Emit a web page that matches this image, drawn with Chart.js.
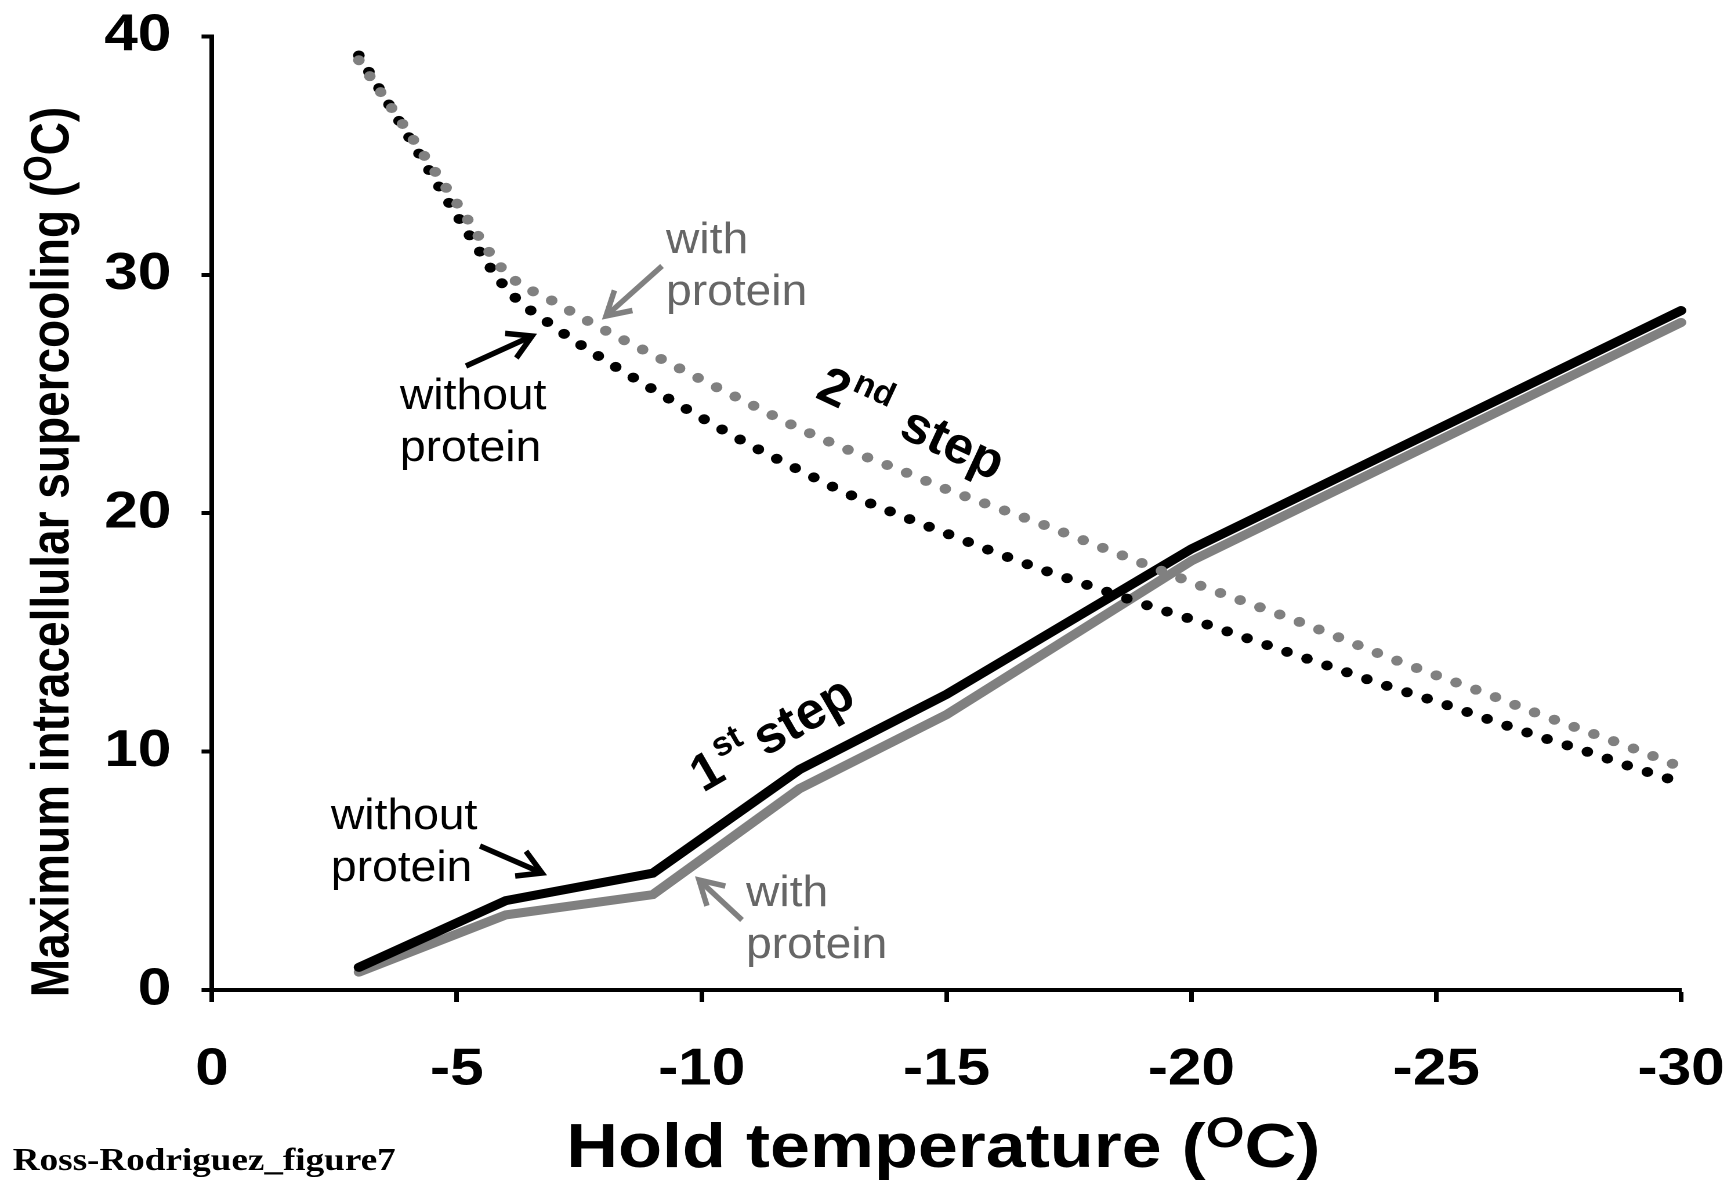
<!DOCTYPE html>
<html><head><meta charset="utf-8">
<script src="https://cdn.jsdelivr.net/npm/chart.js@4.4.1/dist/chart.umd.min.js"></script>
<style>html,body{margin:0;padding:0;background:#fff;overflow:hidden}canvas{display:block}</style>
</head><body>
<canvas id="c" width="1492" height="1184" style="width:1731px;height:1184px"></canvas>
<script>
// ---- data ----
const holdTemps1 = [-3, -6, -9, -12, -15, -20, -30];
const step1Without = [0.95, 3.75, 4.9, 9.25, 12.4, 18.5, 28.5];
const step1With = [0.75, 3.15, 4.0, 8.45, 11.55, 18.0, 28.0];
const holdTemps2 = [-3, -4, -5, -6, -7, -8, -9, -10, -11, -12, -13, -14, -15, -16, -17, -18, -19, -20, -21, -22, -23, -24, -25, -26, -27, -28, -29, -30];
const step2Without = [39.2, 35.85, 32.5, 29.45, 27.8, 26.45, 25.2, 24.0, 22.85, 21.8, 20.8, 19.95, 19.15, 18.35, 17.6, 16.9, 16.2, 15.55, 14.85, 14.15, 13.45, 12.75, 12.1, 11.4, 10.7, 10.05, 9.35, 8.7];
const step2With = [39.0, 36.0, 33.0, 30.1, 28.85, 27.7, 26.65, 25.6, 24.57, 23.55, 22.65, 21.85, 21.0, 20.25, 19.5, 18.7, 17.9, 17.1, 16.35, 15.6, 14.8, 13.97, 13.2, 12.45, 11.65, 10.9, 10.15, 9.35];
const xTickValues = [0, -5, -10, -15, -20, -25, -30];
const xTickLabels = ['0', '-5', '-10', '-15', '-20', '-25', '-30'];
const yTickValues = [0, 10, 20, 30, 40];
const yTickLabels = ['0', '10', '20', '30', '40'];

// ---- layout helpers ----
const S = 1731 / 1492;
const FONT = '"Liberation Sans", Arial, Helvetica, sans-serif';
const SERIF = '"Liberation Serif", "Times New Roman", serif';
Chart.defaults.font.family = FONT;

function pts(xs, ys) { return xs.map((x, i) => ({x: x, y: ys[i]})); }

function drawRich(ctx, parts, x, y, align, family) {
  family = family || FONT;
  let total = 0;
  const ws = parts.map(p => {
    ctx.font = (p.b ? 'bold ' : '') + p.s + 'px ' + family;
    const w = ctx.measureText(p.t).width; total += w; return w;
  });
  let cx = align === 'center' ? x - total / 2 : (align === 'right' ? x - total : x);
  ctx.textAlign = 'left';
  parts.forEach((p, i) => {
    ctx.font = (p.b ? 'bold ' : '') + p.s + 'px ' + family;
    ctx.fillText(p.t, cx, y + (p.dy || 0));
    cx += ws[i];
  });
}

function arrow(ctx, x1, y1, x2, y2, color) {
  const hl = 27, ha = Math.PI / 6;
  ctx.strokeStyle = color; ctx.lineWidth = 5.5; ctx.lineCap = 'butt'; ctx.lineJoin = 'miter';
  ctx.beginPath(); ctx.moveTo(x1, y1); ctx.lineTo(x2, y2); ctx.stroke();
  const a = Math.atan2(y1 - y2, x1 - x2);
  ctx.beginPath();
  ctx.moveTo(x2 + hl * Math.cos(a + ha), y2 + hl * Math.sin(a + ha));
  ctx.lineTo(x2, y2);
  ctx.lineTo(x2 + hl * Math.cos(a - ha), y2 + hl * Math.sin(a - ha));
  ctx.stroke();
}

function note(ctx, lines, x, y, color) {
  ctx.fillStyle = color;
  ctx.font = '44px ' + FONT;
  ctx.textAlign = 'left';
  lines.forEach((t, i) => {
    ctx.save(); ctx.translate(x, y + i * 52); ctx.scale(1.05, 1);
    ctx.fillText(t, 0, 0); ctx.restore();
  });
}

function stepLabel(ctx, x, y, ang, num, sup, stepX) {
  ctx.save(); ctx.translate(x, y); ctx.rotate(ang);
  ctx.fillStyle = '#000'; ctx.textAlign = 'left';
  ctx.font = 'bold 52px ' + FONT; ctx.fillText(num, 0, 0);
  const w = ctx.measureText(num).width;
  ctx.font = 'bold 34px ' + FONT; ctx.fillText(sup, w + 2, -22);
  ctx.font = 'bold 52px ' + FONT; ctx.fillText('step', stepX, 0);
  ctx.restore();
}

const annotPlugin = {
  id: 'annot',
  afterDraw(chart) {
    const ctx = chart.ctx;
    ctx.save();
    ctx.fillStyle = '#000';
    ctx.textBaseline = 'alphabetic';
    // x title
    drawRich(ctx, [
      {t: 'Hold temperature (', s: 62, b: true},
      {t: 'O', s: 43, b: true, dy: -20},
      {t: 'C)', s: 62, b: true}
    ], 813, 1167, 'center');
    // y title
    ctx.save(); ctx.translate(59, 552); ctx.rotate(-Math.PI / 2);
    drawRich(ctx, [
      {t: 'Maximum intracellular supercooling (', s: 46, b: true},
      {t: 'O', s: 34, b: true, dy: -15},
      {t: 'C)', s: 46, b: true}
    ], 0, 0, 'center');
    ctx.restore();
    // footer
    ctx.font = 'bold 32px ' + SERIF; ctx.textAlign = 'left';
    ctx.fillText('Ross-Rodriguez_figure7', 11, 1170);

    // annotations in true pixel space
    ctx.scale(1 / S, 1);
    note(ctx, ['with', 'protein'], 666, 253, '#666');
    note(ctx, ['without', 'protein'], 400, 409, '#000');
    note(ctx, ['without', 'protein'], 331, 829, '#000');
    note(ctx, ['with', 'protein'], 746, 906, '#666');
    arrow(ctx, 662, 266, 606, 316, '#808080');
    arrow(ctx, 466, 366, 532, 336, '#000');
    arrow(ctx, 480, 846, 542, 873, '#000');
    arrow(ctx, 742, 920, 699, 880, '#808080');
    stepLabel(ctx, 814, 397, 25 * Math.PI / 180, '2', 'nd', 92);
    stepLabel(ctx, 703, 793, -30 * Math.PI / 180, '1', 'st', 72);
    ctx.restore();
  }
};

const axisCommon = {
  grid: {drawOnChartArea: false, drawTicks: true, tickWidth: 4, tickColor: '#000', color: '#000'},
  border: {display: true, color: '#000', width: 4}
};

new Chart(document.getElementById('c'), {
  type: 'line',
  data: {
    datasets: [
      {label: '2nd step with protein', data: pts(holdTemps2, step2With), borderColor: '#808080', borderWidth: 10,
       borderDash: [0, 18.5], borderCapStyle: 'round', pointRadius: 0, cubicInterpolationMode: 'monotone', order: 0, clip: false},
      {label: '2nd step without protein', data: pts(holdTemps2, step2Without), borderColor: '#000', borderWidth: 10,
       borderDash: [0, 18.5], borderCapStyle: 'round', pointRadius: 0, cubicInterpolationMode: 'monotone', order: 1, clip: false},
      {label: '1st step without protein', data: pts(holdTemps1, step1Without), borderColor: '#000', borderWidth: 9,
       borderCapStyle: 'round', pointRadius: 0, tension: 0, order: 2, clip: false},
      {label: '1st step with protein', data: pts(holdTemps1, step1With), borderColor: '#808080', borderWidth: 9,
       borderCapStyle: 'round', pointRadius: 0, tension: 0, order: 3, clip: false}
    ]
  },
  options: {
    responsive: false, devicePixelRatio: 2, animation: false,
    layout: {padding: {top: 36.4, right: 43, left: 0, bottom: 0}},
    plugins: {legend: {display: false}, tooltip: {enabled: false}},
    scales: {
      x: {
        type: 'linear', min: -30, max: 0, reverse: true,
        afterFit(s) { s.height = 194; s.paddingLeft = 0; s.paddingRight = 0; },
        afterBuildTicks(s) { s.ticks = xTickValues.map(v => ({value: v})); },
        ticks: {callback: (v, i) => xTickLabels[i], font: {size: 52, weight: 'bold'}, color: '#000', padding: 37, maxRotation: 0, autoSkip: false},
        grid: Object.assign({}, axisCommon.grid, {tickLength: 12}),
        border: axisCommon.border
      },
      y: {
        type: 'linear', min: 0, max: 40,
        afterFit(s) { s.width = 182.7; s.paddingTop = 0; s.paddingBottom = 0; },
        afterBuildTicks(s) { s.ticks = yTickValues.map(v => ({value: v})); },
        ticks: {callback: (v, i) => yTickLabels[i], font: {size: 52, weight: 'bold'}, color: '#000', padding: 26, autoSkip: false},
        grid: Object.assign({}, axisCommon.grid, {tickLength: 9}),
        border: axisCommon.border
      }
    }
  },
  plugins: [annotPlugin]
});
</script>
</body></html>
